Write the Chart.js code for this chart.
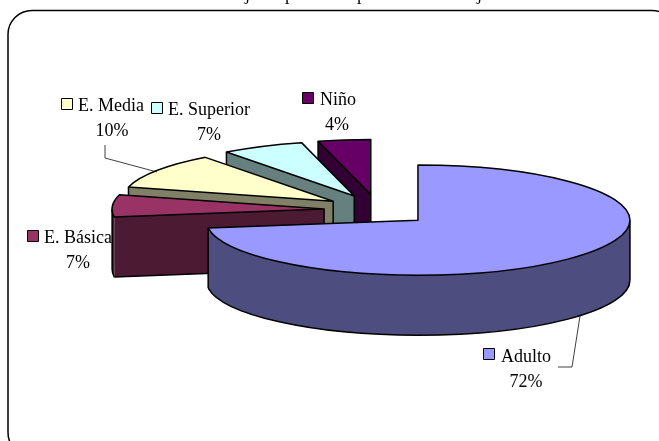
<!DOCTYPE html>
<html>
<head>
<meta charset="utf-8">
<title>Pie 3D</title>
<script src="https://cdn.jsdelivr.net/npm/chart.js@4"></script>
<style>
	html, body { margin: 0; padding: 0; background: #fff; overflow: hidden; }
	canvas { display: block; }
</style>
</head>
<body>
<canvas id="pie-graph" width="659" height="441"></canvas>
<script>
const categories = ["Adulto", "E. Básica", "E. Media", "E. Superior", "Niño"];
// what the labels print
const percentages = [72, 7, 10, 7, 4];
// slice sizes, the 3D view skews them a little
const shares = [72.7, 6.5, 10.5, 6.3, 4];

const topColors = ["#9999ff", "#993366", "#ffffcc", "#ccffff", "#660066"];
const sideColors = ["#4d4d80", "#4d1a33", "#808066", "#668080", "#330033"];

// label layout: legend key corner, text start, percent centre, baselines
const labelLayout = [
	{ keyX: 483, keyY: 348, textX: 501, nameY: 362, pctX: 526, pctY: 387 },
	{ keyX: 27, keyY: 230, textX: 44, nameY: 243, pctX: 78, pctY: 268 },
	{ keyX: 61, keyY: 98, textX: 78, nameY: 111, pctX: 112, pctY: 136 },
	{ keyX: 151, keyY: 102, textX: 168, nameY: 115, pctX: 209, pctY: 140 },
	{ keyX: 302, keyY: 92, textX: 320, nameY: 105, pctX: 337, pctY: 130 },
];
const leaderLines = [
	[[580, 316], [572, 367], [558, 367]],
	[[105, 145], [105, 158], [157, 172]],
];
// the title is cut off by the top of the picture, only these tails can be read
const titleTails = [["j", 245], ["p", 285], ["p", 357], ["j", 477]];

const SQUASH = 0.26;
const DEPTH = 60;
const EXPLODE = 53.5;
const EXPLODE_SQUASH = 0.29;
const FONT = '18px "Liberation Serif"';

const tracePath = (ctx, points) => {
	ctx.beginPath();
	points.forEach(([x, y], idx) => (idx ? ctx.lineTo(x, y) : ctx.moveTo(x, y)));
};

const drawSlice = (ctx, arc, idx) => {
	const { x, y, startAngle: a0, endAngle: a1, outerRadius: r } = arc;
	const mid = (a0 + a1) / 2;
	const cx = x + Math.cos(mid) * EXPLODE;
	const cy = y + Math.sin(mid) * EXPLODE * EXPLODE_SQUASH;
	const ry = r * SQUASH;
	const rim = (a) => [cx + Math.cos(a) * r, cy + Math.sin(a) * ry];

	// outer wall is the front half of the ellipse only
	const lo = Math.max(a0, 0);
	const hi = Math.min(a1, Math.PI);
	const hasWall = lo < hi;
	const startFace = Math.cos(a0) < -1e-6;
	const endFace = Math.cos(a1) > 1e-6;

	ctx.lineWidth = 1.5;
	ctx.lineJoin = "round";
	ctx.strokeStyle = "#000";
	ctx.fillStyle = sideColors[idx];

	// cut faces, only the ones turned to the viewer
	[
		[a0, startFace],
		[a1, endFace],
	].forEach(([a, visible]) => {
		if (!visible) return;
		const [px, py] = rim(a);
		tracePath(ctx, [[cx, cy], [px, py], [px, py + DEPTH], [cx, cy + DEPTH]]);
		ctx.closePath();
		ctx.fill();
		const edge = [[px, py + DEPTH], [cx, cy + DEPTH], [cx, cy]];
		if (!hasWall) edge.unshift([px, py]);
		tracePath(ctx, edge);
		ctx.stroke();
	});

	if (hasWall) {
		ctx.beginPath();
		ctx.ellipse(cx, cy, r, ry, 0, lo, hi);
		ctx.ellipse(cx, cy + DEPTH, r, ry, 0, hi, lo, true);
		ctx.closePath();
		ctx.fill();

		ctx.beginPath();
		ctx.ellipse(cx, cy + DEPTH, r, ry, 0, lo, hi);
		ctx.stroke();
		// no seam where the wall runs into a cut face
		if (!(lo === a0 && startFace)) {
			const [px, py] = rim(lo);
			tracePath(ctx, [[px, py], [px, py + DEPTH]]);
			ctx.stroke();
		}
		if (!(hi === a1 && endFace)) {
			const [px, py] = rim(hi);
			tracePath(ctx, [[px, py], [px, py + DEPTH]]);
			ctx.stroke();
		}
	}

	// top face is the library's own arc, flattened
	ctx.save();
	ctx.translate(cx, cy);
	ctx.scale(1, SQUASH);
	ctx.translate(-x, -y);
	arc.draw(ctx);
	ctx.restore();

	ctx.beginPath();
	ctx.moveTo(cx, cy);
	ctx.ellipse(cx, cy, r, ry, 0, a0, a1);
	ctx.closePath();
	ctx.stroke();
};

const pie3dPlugin = {
	id: "pie3d",
	beforeDatasetsDraw(chart) {
		const arcs = chart.getDatasetMeta(0).data;
		for (let idx = arcs.length - 1; idx >= 0; idx--) {
			drawSlice(chart.ctx, arcs[idx], idx);
		}
		return false;
	},
};

const framePlugin = {
	id: "frame",
	beforeDraw(chart) {
		const ctx = chart.ctx;
		ctx.save();
		ctx.strokeStyle = "#000";
		ctx.lineWidth = 1.5;
		ctx.beginPath();
		ctx.roundRect(8, 10.5, 668, 446, 24);
		ctx.stroke();
		ctx.restore();
	},
};

const labelsPlugin = {
	id: "labels",
	afterDraw(chart) {
		const ctx = chart.ctx;
		ctx.save();
		ctx.font = FONT;
		ctx.fillStyle = "#000";
		ctx.textBaseline = "alphabetic";

		ctx.textAlign = "left";
		titleTails.forEach(([ch, x]) => ctx.fillText(ch, x, 0));

		ctx.lineWidth = 0.75;
		ctx.strokeStyle = "#000";
		leaderLines.forEach((line) => {
			tracePath(ctx, line);
			ctx.stroke();
		});

		categories.forEach((name, idx) => {
			const pos = labelLayout[idx];
			ctx.fillStyle = topColors[idx];
			ctx.fillRect(pos.keyX + 0.5, pos.keyY + 0.5, 11, 11);
			ctx.lineWidth = 1;
			ctx.strokeRect(pos.keyX + 0.5, pos.keyY + 0.5, 11, 11);
			ctx.fillStyle = "#000";
			ctx.textAlign = "left";
			ctx.fillText(name, pos.textX, pos.nameY);
			ctx.textAlign = "center";
			ctx.fillText(percentages[idx] + "%", pos.pctX, pos.pctY);
		});
		ctx.restore();
	},
};

const pieGraph = new Chart(document.getElementById("pie-graph"), {
	type: "pie",
	data: {
		labels: categories,
		datasets: [
			{
				data: shares,
				backgroundColor: topColors,
				borderWidth: 0,
				radius: 212,
			},
		],
	},
	options: {
		responsive: false,
		animation: false,
		layout: { padding: { left: 96, bottom: 21 } },
		plugins: {
			legend: { display: false },
			tooltip: { enabled: false },
		},
	},
	plugins: [framePlugin, pie3dPlugin, labelsPlugin],
});
</script>
</body>
</html>
